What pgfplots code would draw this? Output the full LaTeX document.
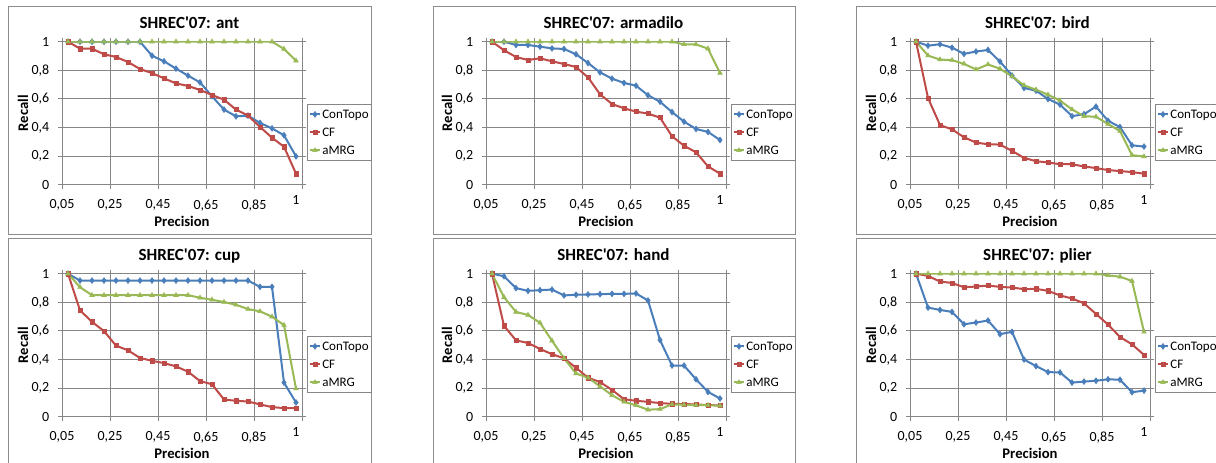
\documentclass[border=0pt]{standalone}
\usepackage{fontspec}
\setmainfont{Carlito}
\usepackage{pgfplots}
\usepackage{pgfplotstable}
\pgfplotsset{compat=1.18}

\definecolor{ctblue}{HTML}{4A7EBB}
\definecolor{cfred}{HTML}{BE4B48}
\definecolor{amgreen}{HTML}{98B954}
\definecolor{gridgray}{HTML}{868686}
\definecolor{boxgray}{HTML}{8C8C8C}

% precision categories 0,05 ... 1 plotted at 0.5 ... 19.5
\pgfplotstableread{
x    ct    cf    am
0.5  1     1     1
1.5  1     0.951 1
2.5  1     0.951 1
3.5  1     0.912 1
4.5  1     0.893 1
5.5  1     0.858 1
6.5  1     0.809 1
7.5  0.902 0.781 1
8.5  0.863 0.744 1
9.5  0.812 0.709 1
10.5 0.763 0.691 1
11.5 0.716 0.663 1
12.5 0.619 0.628 1
13.5 0.526 0.595 1
14.5 0.479 0.526 1
15.5 0.484 0.484 1
16.5 0.433 0.405 1
17.5 0.395 0.330 1
18.5 0.347 0.267 0.949
19.5 0.200 0.079 0.867
}\antdata

\pgfplotstableread{
x    ct    cf    am
0.5  1     1     1
1.5  1     0.940 1
2.5  0.977 0.893 1
3.5  0.977 0.872 1
4.5  0.965 0.884 1
5.5  0.953 0.863 1
6.5  0.949 0.844 1
7.5  0.912 0.823 1
8.5  0.851 0.751 1
9.5  0.786 0.633 1
10.5 0.742 0.565 1
11.5 0.712 0.535 1
12.5 0.693 0.512 1
13.5 0.626 0.498 1
14.5 0.581 0.470 1
15.5 0.509 0.340 1
16.5 0.442 0.274 0.981
17.5 0.391 0.228 0.981
18.5 0.370 0.130 0.951
19.5 0.314 0.079 0.781
}\armdata

\pgfplotstableread{
x    ct    cf    am
0.5  1     1     1
1.5  0.972 0.607 0.903
2.5  0.982 0.418 0.875
3.5  0.958 0.388 0.871
4.5  0.915 0.333 0.845
5.5  0.931 0.296 0.806
6.5  0.942 0.284 0.841
7.5  0.861 0.282 0.811
8.5  0.764 0.238 0.758
9.5  0.677 0.189 0.695
10.5 0.658 0.166 0.665
11.5 0.600 0.157 0.630
12.5 0.561 0.145 0.589
13.5 0.480 0.145 0.527
14.5 0.494 0.129 0.480
15.5 0.547 0.118 0.476
16.5 0.448 0.104 0.425
17.5 0.404 0.097 0.376
18.5 0.277 0.090 0.208
19.5 0.268 0.079 0.199
}\birddata

\pgfplotstableread{
x    ct    cf    am
0.5  1     1     1
1.5  0.952 0.744 0.906
2.5  0.952 0.664 0.850
3.5  0.952 0.599 0.850
4.5  0.952 0.498 0.850
5.5  0.952 0.465 0.850
6.5  0.952 0.412 0.850
7.5  0.952 0.392 0.850
8.5  0.952 0.376 0.850
9.5  0.952 0.353 0.850
10.5 0.952 0.316 0.850
11.5 0.952 0.251 0.832
12.5 0.952 0.228 0.818
13.5 0.952 0.122 0.802
14.5 0.952 0.113 0.783
15.5 0.952 0.108 0.753
16.5 0.908 0.088 0.737
17.5 0.908 0.069 0.700
18.5 0.240 0.062 0.641
19.5 0.101 0.062 0.198
}\cupdata

\pgfplotstableread{
x    ct    cf    am
0.5  1     1     1
1.5  0.982 0.636 0.836
2.5  0.899 0.535 0.733
3.5  0.880 0.516 0.712
4.5  0.885 0.475 0.657
5.5  0.889 0.438 0.532
6.5  0.848 0.410 0.410
7.5  0.853 0.343 0.304
8.5  0.855 0.274 0.274
9.5  0.857 0.244 0.214
10.5 0.859 0.189 0.152
11.5 0.859 0.124 0.106
12.5 0.862 0.113 0.081
13.5 0.813 0.106 0.051
14.5 0.537 0.097 0.055
15.5 0.359 0.092 0.088
16.5 0.359 0.090 0.085
17.5 0.263 0.088 0.083
18.5 0.175 0.083 0.083
19.5 0.129 0.081 0.078
}\handdata

\pgfplotstableread{
x    ct    cf    am
0.5  1     1     1
1.5  0.763 0.984 1
2.5  0.747 0.945 1
3.5  0.733 0.935 1
4.5  0.647 0.905 1
5.5  0.659 0.910 1
6.5  0.673 0.917 1
7.5  0.578 0.908 1
8.5  0.594 0.903 1
9.5  0.401 0.892 1
10.5 0.355 0.894 1
11.5 0.313 0.880 1
12.5 0.311 0.848 1
13.5 0.240 0.827 1
14.5 0.247 0.793 1
15.5 0.253 0.719 1
16.5 0.263 0.645 0.988
17.5 0.260 0.558 0.979
18.5 0.173 0.507 0.949
19.5 0.184 0.433 0.594
}\plierdata

\pgfplotsset{
  prpanel/.style={
    scale only axis, width=180pt, height=107.5pt,
    anchor=south west,
    xmin=0, xmax=20, ymin=0, ymax=1,
    xtick={0,4,8,12,16,20},
    xticklabels={0{,}05,0{,}25,0{,}45,0{,}65,0{,}85,{}},
    extra x ticks={19.5}, extra x tick labels={1},
    extra x tick style={major tick length=0pt, grid=none},
    ytick={0,0.2,0.4,0.6,0.8,1},
    yticklabels={0,{0,2},{0,4},{0,6},{0,8},1},
    grid=major, grid style={gridgray, line width=0.75pt},
    axis line style={gridgray, line width=0.75pt},
    tick style={gridgray, line width=0.75pt},
    tick align=outside, major tick length=3pt,
    tick label style={font=\fontsize{10.5}{12}\selectfont, black},
    xticklabel style={yshift=-4.5pt},
    yticklabel style={xshift=-3pt},
    title style={at={(0.531,1)}, anchor=base, yshift=3.5pt,
      font=\bfseries\fontsize{12.75}{14}\selectfont},
    xlabel=Precision, ylabel=Recall,
    label style={font=\bfseries\fontsize{11}{13}\selectfont},
    xlabel style={at={(axis description cs:0.5,0)}, anchor=center, yshift=-27.5pt},
    ylabel style={at={(axis description cs:-0.162,0.5)}, anchor=center},
    legend style={at={(1.021,0.367)}, anchor=west, draw=gridgray,
      font=\fontsize{9.75}{11}\selectfont, inner sep=1pt, row sep=0pt,
      nodes={text height=7.5pt, text depth=2pt, inner xsep=0.75pt, inner ysep=2pt},
      cells={anchor=west}},
    legend image code/.code={\draw[mark repeat=2,mark phase=2,#1]
      plot coordinates {(0pt,0pt) (4pt,0pt) (8pt,0pt)};},
  },
  ser/.style={line width=1.5pt, mark options={solid, line width=0.4pt}},
}

\newcommand{\panel}[4]{%
  \begin{axis}[prpanel, at={(#1,#2)}, title={#3}]
    \addplot[ser, ctblue, mark=diamond*, mark size=2.2pt] table[x=x, y=ct]{#4};
    \addplot[ser, cfred, mark=square*, mark size=1.6pt] table[x=x, y=cf]{#4};
    \addplot[ser, amgreen, mark=triangle*, mark size=2pt] table[x=x, y=am]{#4};
    \legend{ConTopo, CF, aMRG}
  \end{axis}}

\begin{document}
\begin{tikzpicture}
\clip (0,0) rectangle (912pt,347.25pt);
\fill[white] (0,0) rectangle (912pt,347.25pt);
% chart frames
\draw[boxgray, line width=0.75pt] (6pt,171pt) rectangle (278.25pt,342pt);
\draw[boxgray, line width=0.75pt] (324.75pt,171pt) rectangle (596.25pt,342pt);
\draw[boxgray, line width=0.75pt] (642pt,171pt) rectangle (930pt,342pt);
\draw[boxgray, line width=0.75pt] (6pt,-10pt) rectangle (278.25pt,168pt);
\draw[boxgray, line width=0.75pt] (324.75pt,-10pt) rectangle (596.25pt,168pt);
\draw[boxgray, line width=0.75pt] (642pt,-10pt) rectangle (930pt,168pt);

\panel{46.5pt}{208.5pt}{SHREC\textquotesingle 07: ant}{\antdata}
\panel{364.5pt}{208.5pt}{SHREC\textquotesingle 07: armadilo}{\armdata}
\panel{682.5pt}{208.5pt}{SHREC\textquotesingle 07: bird}{\birddata}
\panel{46.5pt}{34.5pt}{SHREC\textquotesingle 07: cup}{\cupdata}
\panel{364.5pt}{34.5pt}{SHREC\textquotesingle 07: hand}{\handdata}
\panel{682.5pt}{34.5pt}{SHREC\textquotesingle 07: plier}{\plierdata}
\end{tikzpicture}
\end{document}
